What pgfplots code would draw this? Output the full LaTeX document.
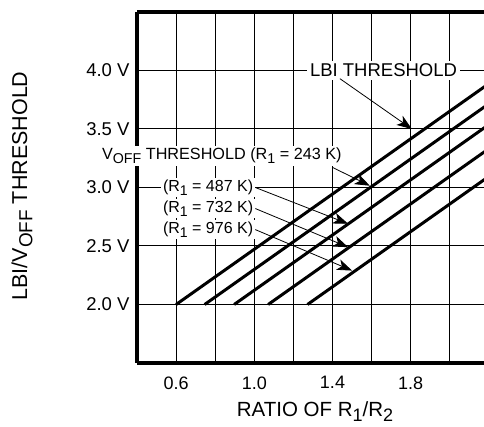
\documentclass[border=0pt]{standalone}
\usepackage{fontspec}
\setmainfont{Liberation Sans}
\usepackage{graphicx}
\usepackage{pgfplots}
\pgfplotsset{compat=1.18}
\usetikzlibrary{arrows.meta}
\newcommand\sub[1]{\raisebox{-0.25em}{\scalebox{0.88}{#1}}}
\newcommand\fs[1]{\fontsize{#1}{#1}\selectfont}

\begin{document}
\begin{tikzpicture}
\useasboundingbox (-137pt,-64pt) rectangle (347pt,363pt);
\begin{axis}[
  at={(0pt,0pt)}, anchor=south west,
  scale only axis, width=351.9pt, height=351pt,
  xmin=0.4, xmax=2.2, ymin=1.5, ymax=4.5,
  axis line style={draw=none},
  xtick={0.6,0.8,1.0,1.2,1.4,1.6,1.8,2.0},
  xticklabels={0.6,,1.0,,1.4,,1.8,},
  ytick={2.0,2.5,3.0,3.5,4.0},
  yticklabels={2.0 V,2.5 V,3.0 V,3.5 V,4.0 V},
  major tick length=0pt,
  tick pos=left,
  grid=major, grid style={line width=1pt, black},
  xticklabel style={font=\fs{18}, yshift=-10pt},
  yticklabel style={font=\fs{18.5}, xshift=-4pt},
  clip=false,
]
\addplot[black, line width=3pt] coordinates {(0.600,2.0) (2.2,3.888)};
\addplot[black, line width=3pt] coordinates {(0.746,2.0) (2.2,3.716)};
\addplot[black, line width=3pt] coordinates {(0.897,2.0) (2.2,3.538)};
\addplot[black, line width=3pt] coordinates {(1.071,2.0) (2.2,3.332)};
\addplot[black, line width=3pt] coordinates {(1.272,2.0) (2.2,3.095)};

\draw[black, line width=3.2pt] (rel axis cs:0,0) -- (rel axis cs:0,1);
\draw[black, line width=3.2pt] (rel axis cs:0,1) -- (rel axis cs:1,1);
\draw[black, line width=3.2pt] (rel axis cs:0,0) -- (rel axis cs:1,0);

\coordinate (lbi) at (axis cs:1.661,4.0);
\coordinate (lbiA) at (axis cs:1.438,3.93);
\coordinate (lbiB) at (axis cs:1.806,3.5);
\coordinate (voff) at (axis cs:0.210,3.27);
\coordinate (voffA) at (axis cs:1.402,3.17);
\coordinate (voffB) at (axis cs:1.591,3.015);
\coordinate (ra) at (axis cs:0.522,3.0);
\coordinate (rb) at (axis cs:0.522,2.82);
\coordinate (rc) at (axis cs:0.522,2.64);
\coordinate (raB) at (axis cs:1.48,2.69);
\coordinate (rbB) at (axis cs:1.48,2.49);
\coordinate (rcB) at (axis cs:1.50,2.29);
\end{axis}

\node[fill=white, inner sep=3pt, font=\fs{18.5}] at (lbi) {LBI THRESHOLD};
\draw[line width=0.8pt, -{Stealth[length=15pt,width=11pt,inset=4pt]}] (lbiA) -- (lbiB);

\node[fill=white, inner sep=2pt, anchor=west, font=\fs{16.2}] at (voff) {V\sub{OFF} THRESHOLD (R\sub{1} = 243 K)};
\draw[line width=0.8pt, -{Stealth[length=15pt,width=11pt,inset=4pt]}] (voffA) -- (voffB);

\node[fill=white, inner sep=2pt, anchor=west, font=\fs{16}] (a) at (ra) {(R\sub{1} = 487 K)};
\node[fill=white, inner sep=2pt, anchor=west, font=\fs{16}] (b) at (rb) {(R\sub{1} = 732 K)};
\node[fill=white, inner sep=2pt, anchor=west, font=\fs{16}] (c) at (rc) {(R\sub{1} = 976 K)};
\draw[line width=0.8pt, -{Stealth[length=15pt,width=11pt,inset=4pt]}] (a.east) -- (raB);
\draw[line width=0.8pt, -{Stealth[length=15pt,width=11pt,inset=4pt]}] (b.east) -- (rbB);
\draw[line width=0.8pt, -{Stealth[length=15pt,width=11pt,inset=4pt]}] (c.east) -- (rcB);

\node[font=\fs{20.5}] at (178pt,-49pt) {RATIO OF R\sub{1}/R\sub{2}};
\node[font=\fs{21.5}, rotate=90] at (-115pt,177pt) {LBI/V\sub{OFF} THRESHOLD};
\end{tikzpicture}
\end{document}
